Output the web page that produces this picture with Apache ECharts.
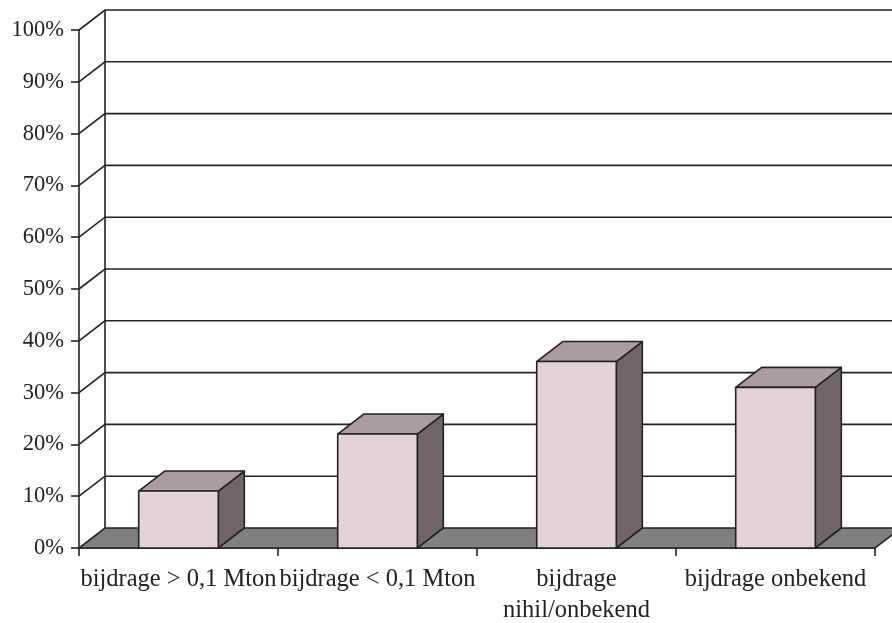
<!DOCTYPE html>
<html>
<head>
<meta charset="utf-8">
<script src="https://cdn.jsdelivr.net/npm/echarts@6/dist/echarts.min.js"></script>
<style>
  html, body { margin: 0; padding: 0; background: #ffffff; }
  #chart { width: 892px; height: 623px; }
</style>
</head>
<body>
<div id="chart"></div>
<script>
// Categories and shares (percent of total)
const categories = [
  'bijdrage > 0,1 Mton',
  'bijdrage < 0,1 Mton',
  'bijdrage\nnihil/onbekend',
  'bijdrage onbekend'
];
const shares = [11, 22, 36, 31];
const yTicks = [0, 10, 20, 30, 40, 50, 60, 70, 80, 90, 100];

// Oblique projection offset for the depth of the box
const DX = 26, DY = -20;
const EDGE = '#222222';
const FRONT = '#e4d2d8';
const TOP = '#ab9ca1';
const SIDE = '#716569';
const FLOOR = '#808080';

const chart = echarts.init(document.getElementById('chart'), null, { renderer: 'canvas' });

function renderFloor(params, api) {
  const cs = params.coordSys;
  const y0 = api.coord([0, 0])[1];
  const xl = cs.x, xr = cs.x + cs.width;
  return {
    type: 'polygon',
    shape: { points: [[xl, y0], [xr, y0], [xr + DX, y0 + DY], [xl + DX, y0 + DY]] },
    style: { fill: FLOOR, stroke: EDGE, lineWidth: 1.6 }
  };
}

function renderWall(params, api) {
  const cs = params.coordSys;
  const v = api.value(1);
  const y = api.coord([0, v])[1];
  const xl = cs.x, xr = cs.x + cs.width;
  const children = [];
  if (v > 0) {
    children.push({
      type: 'polyline',
      shape: { points: [[xl, y], [xl + DX, y + DY], [xr + DX, y + DY]] },
      style: { stroke: EDGE, lineWidth: 1.6, fill: null }
    });
  }
  if (v === yTicks[yTicks.length - 1]) {
    const yb = api.coord([0, 0])[1];
    children.push({
      type: 'line',
      shape: { x1: xl + DX, y1: yb + DY, x2: xl + DX, y2: y + DY },
      style: { stroke: EDGE, lineWidth: 1.6 }
    });
  }
  return { type: 'group', children: children };
}

function renderBar(params, api) {
  const cat = api.value(0);
  const val = api.value(1);
  const base = api.coord([cat, 0]);
  const top = api.coord([cat, val]);
  const w = api.size([1, 0])[0] * 0.4;
  const x0 = base[0] - w / 2, x1 = base[0] + w / 2;
  const y0 = base[1], y1 = top[1];
  const st = { stroke: EDGE, lineWidth: 1.6, lineJoin: 'round' };
  return {
    type: 'group',
    children: [
      {
        type: 'polygon',
        shape: { points: [[x1, y0], [x1, y1], [x1 + DX, y1 + DY], [x1 + DX, y0 + DY]] },
        style: Object.assign({ fill: SIDE }, st)
      },
      {
        type: 'polygon',
        shape: { points: [[x0, y1], [x1, y1], [x1 + DX, y1 + DY], [x0 + DX, y1 + DY]] },
        style: Object.assign({ fill: TOP }, st)
      },
      {
        type: 'rect',
        shape: { x: x0, y: y1, width: w, height: y0 - y1 },
        style: Object.assign({ fill: FRONT }, st)
      }
    ]
  };
}

const labelFont = {
  fontFamily: '"Liberation Serif", "Times New Roman", serif',
  color: '#222222'
};

chart.setOption({
  animation: false,
  backgroundColor: '#ffffff',
  grid: {
    left: 79, right: 17, top: 30, bottom: 75,
    containLabel: false,
    outerBoundsMode: 'none'
  },
  xAxis: {
    type: 'category',
    data: categories,
    boundaryGap: true,
    axisLine: { show: true, lineStyle: { color: EDGE, width: 1.6 } },
    axisTick: { show: true, length: 8, alignWithLabel: false, lineStyle: { color: EDGE, width: 1.6 } },
    axisLabel: Object.assign({ interval: 0, fontSize: 24.5, lineHeight: 31, margin: 16 }, labelFont),
    splitLine: { show: false }
  },
  yAxis: {
    type: 'value',
    min: 0,
    max: 100,
    interval: 10,
    axisLine: { show: true, lineStyle: { color: EDGE, width: 1.6 } },
    axisTick: { show: true, length: 8, lineStyle: { color: EDGE, width: 1.6 } },
    axisLabel: Object.assign({ fontSize: 22.5, margin: 15, formatter: '{value}%' }, labelFont),
    splitLine: { show: false }
  },
  series: [
    {
      type: 'custom',
      name: 'floor',
      renderItem: renderFloor,
      data: [[0, 0]],
      encode: { x: 0, y: 1 },
      clip: false,
      silent: true,
      z: 1
    },
    {
      type: 'custom',
      name: 'wall',
      renderItem: renderWall,
      data: yTicks.map(function (v) { return [0, v]; }),
      encode: { x: 0, y: 1 },
      clip: false,
      silent: true,
      z: 2
    },
    {
      type: 'custom',
      name: 'aandeel',
      renderItem: renderBar,
      data: shares.map(function (v, i) { return [i, v]; }),
      encode: { x: 0, y: 1 },
      clip: false,
      z: 3
    }
  ]
});
</script>
</body>
</html>
